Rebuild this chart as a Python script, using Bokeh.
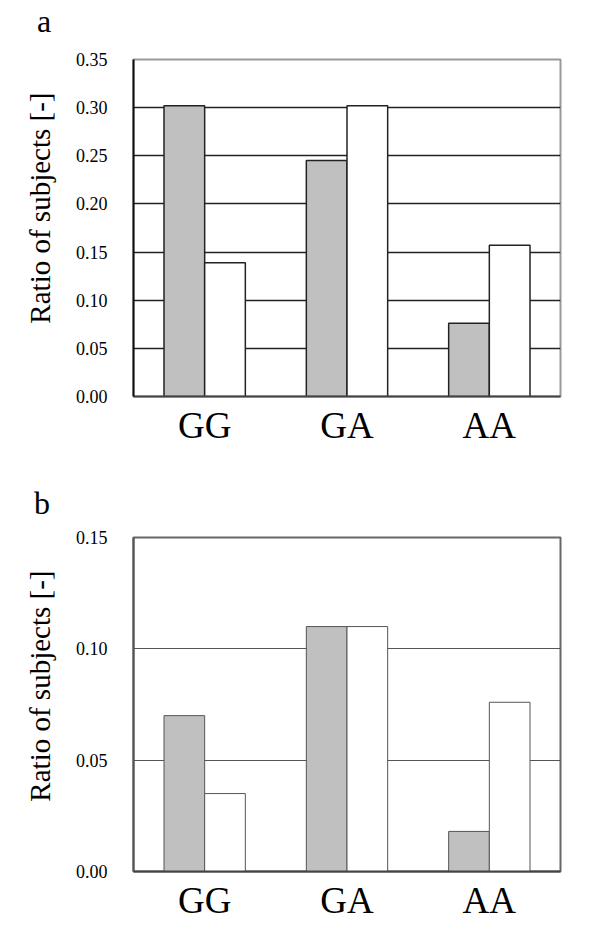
from bokeh.plotting import figure
from bokeh.layouts import column
from bokeh.models import (FactorRange, Range1d, FixedTicker, Title, Div,
                          NumeralTickFormatter, ColumnDataSource)
from bokeh.transform import dodge
from bokeh.embed import file_html
from bokeh.resources import INLINE

genotypes = ["GG", "GA", "AA"]
a_gray = [0.302, 0.245, 0.076]
a_white = [0.139, 0.302, 0.157]
b_gray = [0.070, 0.110, 0.018]
b_white = [0.035, 0.110, 0.076]
a_ticks = [0.00, 0.05, 0.10, 0.15, 0.20, 0.25, 0.30, 0.35]
b_ticks = [0.00, 0.05, 0.10, 0.15]
y_title = "Ratio of subjects [-]"

SERIF = "Liberation Serif"
BAR_W = 1 / 3.5


def panel_letter(letter, height, line_height, indent):
    return Div(text=letter, width=560, height=height,
               styles={"font-family": SERIF, "font-size": "32px",
                       "line-height": f"{line_height}px",
                       "text-indent": f"{indent}px",
                       "color": "black", "margin": "0", "padding": "0"})


def make_panel(gray, white, ymax, ticks, width, height, borders,
               grid_color, grid_width, edge_color, edge_width, outline_color,
               axis_color, ytitle_standoff):
    left, right, top, bottom = borders
    src = ColumnDataSource(dict(cat=genotypes, gray=gray, white=white))
    p = figure(x_range=FactorRange(factors=genotypes, range_padding=0),
               y_range=Range1d(0, ymax),
               width=width, height=height, output_backend="svg",
               toolbar_location=None,
               min_border_left=left, min_border_right=right,
               min_border_top=top, min_border_bottom=bottom)
    p.add_layout(Title(text=y_title, align="right", offset=33,
                       standoff=ytitle_standoff,
                       text_font=SERIF, text_font_size="29px",
                       text_font_style="normal", text_color="black"), "left")
    p.vbar(x=dodge("cat", -BAR_W / 2, range=p.x_range), top="gray", width=BAR_W,
           source=src, fill_color="#c0c0c0", line_color=edge_color,
           line_width=edge_width)
    p.vbar(x=dodge("cat", BAR_W / 2, range=p.x_range), top="white", width=BAR_W,
           source=src, fill_color="white", line_color=edge_color,
           line_width=edge_width)

    p.background_fill_color = "white"
    p.border_fill_color = "white"
    p.outline_line_color = outline_color
    p.outline_line_width = 2

    p.xgrid.grid_line_color = None
    p.ygrid.grid_line_color = grid_color
    p.ygrid.grid_line_width = grid_width
    p.yaxis.ticker = FixedTicker(ticks=ticks)
    p.ygrid.ticker = FixedTicker(ticks=ticks)
    p.yaxis.formatter = NumeralTickFormatter(format="0.00")

    ya = p.yaxis[0]
    ya.major_label_text_font = SERIF
    ya.major_label_text_font_size = "18px"
    ya.major_label_text_font_style = "normal"
    ya.major_label_text_color = "black"
    ya.major_label_standoff = 20
    ya.major_tick_line_color = None
    ya.minor_tick_line_color = None
    ya.axis_line_color = axis_color
    ya.axis_line_width = 2

    xa = p.xaxis[0]
    xa.major_label_text_font = SERIF
    xa.major_label_text_font_size = "37px"
    xa.major_label_text_color = "black"
    xa.major_label_standoff = 2
    xa.major_tick_line_color = None
    xa.minor_tick_line_color = None
    xa.axis_line_color = "#444444"
    xa.axis_line_width = 2
    return p


div_a = panel_letter("a", 42, 42, 37)
pa = make_panel(a_gray, a_white, 0.35, a_ticks, 600, 428,
                (130, 40, 17, 74), "#222222", 1.5, "#222222", 1.5, "#999999",
                "#111111", 34)
div_b = panel_letter("b", 54, 66, 34)
pb = make_panel(b_gray, b_white, 0.15, b_ticks, 600, 417,
                (133, 37, 13, 70), "#555555", 1, "#555555", 1, "#666666",
                "#555555", 34)

layout = column(div_a, pa, div_b, pb, spacing=0)
open("out.html", "w").write(file_html(layout, INLINE))
